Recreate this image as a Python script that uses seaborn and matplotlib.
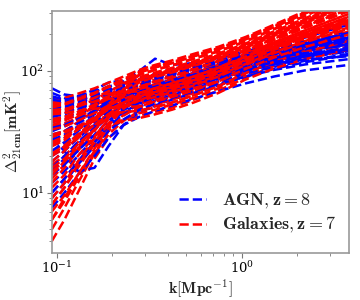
import matplotlib
matplotlib.use("Agg")
import matplotlib.pyplot as plt
import numpy as np
import pandas as pd
import seaborn as sns
from matplotlib.lines import Line2D

# k bins [Mpc^-1]
k_vals = [0.094, 0.11, 0.13, 0.16, 0.19, 0.23, 0.28, 0.34, 0.42, 0.55, 0.75, 1.05, 1.5, 2.2, 3.8]

# AGN, z = 8 power spectra [mK^2]
agn_curves = [
    [72, 64, 62, 70, 80, 84, 88, 95, 104, 114, 126, 142, 158, 172, 190],
    [66, 60, 61, 66, 74, 80, 86, 92, 100, 110, 122, 138, 156, 176, 210],
    [60, 58, 62, 68, 74, 82, 100, 126, 112, 116, 128, 145, 165, 188, 240],
    [7.5, 10, 14, 20, 28, 36, 42, 47, 52, 59, 68, 79, 90, 101, 112],
    [28, 22, 15, 16, 24, 36, 46, 52, 58, 66, 76, 90, 104, 118, 135],
    [12, 15, 20, 28, 37, 46, 54, 60, 66, 75, 86, 100, 114, 128, 145],
    [18, 22, 28, 36, 44, 52, 58, 64, 71, 80, 92, 107, 122, 137, 155],
    [25, 28, 33, 40, 48, 56, 63, 69, 76, 86, 98, 114, 130, 146, 165],
    [35, 37, 41, 47, 54, 60, 66, 72, 79, 89, 101, 117, 133, 148, 162],
    [45, 46, 49, 54, 60, 66, 72, 78, 85, 95, 107, 123, 138, 152, 168],
    [52, 50, 52, 57, 63, 70, 76, 82, 89, 99, 112, 128, 144, 160, 178],
    [40, 42, 45, 50, 56, 62, 68, 73, 79, 87, 97, 110, 124, 136, 150],
    [30, 32, 37, 44, 52, 60, 67, 73, 80, 90, 103, 120, 138, 156, 180],
    [10, 13, 18, 26, 35, 44, 51, 57, 63, 72, 82, 95, 108, 121, 138],
    [15, 19, 25, 33, 42, 50, 57, 63, 69, 78, 89, 103, 117, 131, 148],
    [22, 26, 32, 40, 48, 56, 62, 68, 75, 84, 95, 109, 122, 134, 143],
    [55, 54, 56, 60, 66, 72, 78, 85, 93, 104, 118, 135, 153, 172, 198],
    [48, 47, 50, 56, 63, 70, 77, 84, 92, 103, 116, 133, 150, 166, 185],
    [38, 40, 44, 50, 57, 64, 70, 76, 83, 93, 105, 121, 137, 152, 170],
    [20, 24, 30, 38, 46, 53, 59, 65, 72, 82, 94, 110, 127, 145, 170],
    [32, 35, 40, 47, 55, 63, 70, 77, 85, 96, 110, 128, 147, 166, 188],
    [9, 12, 17, 24, 32, 40, 48, 54, 60, 68, 78, 90, 102, 113, 125],
    [14, 17, 22, 30, 39, 48, 55, 61, 67, 76, 87, 100, 113, 124, 132],
    [62, 58, 60, 64, 70, 76, 82, 88, 96, 106, 120, 137, 155, 174, 200],
    [42, 44, 48, 53, 58, 64, 70, 77, 84, 94, 106, 122, 138, 154, 175],
    [27, 30, 35, 42, 50, 58, 64, 70, 77, 87, 99, 114, 128, 140, 152],
    [50, 51, 54, 59, 65, 71, 77, 83, 90, 100, 113, 129, 145, 160, 176],
    [16, 20, 26, 34, 43, 51, 58, 64, 70, 79, 90, 104, 118, 132, 150],
    [34, 36, 40, 46, 53, 60, 67, 74, 82, 93, 107, 125, 145, 168, 205],
    [58, 56, 58, 63, 69, 75, 81, 87, 94, 104, 117, 133, 150, 166, 182],
]

# Galaxies, z = 7 power spectra [mK^2]
gal_curves = [
    [4, 6, 10, 19, 28, 36, 43, 46, 50, 58, 69, 88, 110, 131, 159],
    [5, 7.5, 12, 21, 32, 44, 54, 58, 63, 72, 86, 108, 134, 164, 210],
    [6, 8.5, 13, 21, 30, 39, 47, 50, 55, 63, 75, 96, 119, 143, 177],
    [8, 11, 16, 25, 36, 48, 60, 66, 73, 83, 98, 122, 152, 188, 249],
    [10, 13, 18, 26, 34, 40, 45, 48, 53, 60, 72, 92, 114, 137, 168],
    [13, 17, 23, 33, 45, 58, 71, 77, 84, 96, 112, 138, 172, 215, 294],
    [17, 20, 26, 34, 43, 51, 57, 61, 67, 76, 90, 112, 140, 172, 222],
    [22, 25, 30, 36, 42, 46, 49, 53, 58, 66, 79, 100, 124, 150, 187],
    [28, 32, 38, 47, 57, 68, 81, 89, 97, 110, 127, 155, 195, 247, 348],
    [35, 37, 41, 47, 54, 60, 65, 70, 76, 87, 102, 127, 159, 197, 263],
    [42, 45, 51, 58, 67, 79, 93, 102, 111, 126, 145, 175, 221, 283, 411],
    [50, 52, 56, 61, 66, 70, 74, 81, 88, 100, 116, 143, 180, 226, 311],
    [57, 60, 65, 72, 80, 90, 102, 112, 122, 138, 158, 190, 240, 310, 460],
    [7, 9.5, 14, 22, 32, 43, 51, 56, 61, 69, 82, 104, 129, 157, 199],
    [12, 16, 22, 32, 46, 63, 85, 93, 101, 115, 133, 162, 203, 258, 367],
    [20, 23, 28, 36, 46, 57, 68, 74, 80, 91, 107, 133, 166, 206, 278],
    [25, 28, 33, 40, 48, 55, 59, 64, 70, 79, 94, 117, 146, 180, 235],
    [32, 36, 42, 51, 62, 77, 97, 107, 116, 132, 151, 182, 230, 296, 435],
    [38, 40, 43, 47, 51, 53, 54, 58, 64, 72, 86, 108, 134, 164, 210],
    [45, 47, 51, 57, 63, 70, 78, 85, 92, 105, 122, 149, 187, 236, 329],
    [53, 55, 60, 66, 73, 81, 89, 97, 106, 120, 139, 168, 212, 270, 389],
    [15, 18, 23, 29, 35, 39, 41, 44, 48, 55, 66, 85, 105, 125, 150],
    [9, 12, 18, 28, 41, 58, 77, 84, 92, 105, 122, 149, 187, 236, 329],
    [30, 32, 35, 39, 43, 46, 47, 51, 55, 63, 75, 96, 119, 143, 177],
    [48, 49, 52, 56, 59, 61, 62, 67, 73, 83, 98, 122, 152, 188, 249],
    [40, 42, 46, 52, 59, 65, 71, 77, 84, 96, 112, 138, 172, 215, 294],
    [18, 22, 29, 40, 53, 71, 93, 102, 111, 126, 145, 175, 221, 283, 411],
    [55, 56, 58, 62, 65, 67, 68, 74, 80, 91, 107, 133, 166, 206, 278],
    [26, 29, 34, 42, 52, 63, 74, 81, 88, 100, 116, 143, 180, 226, 311],
    [11, 14, 20, 29, 40, 50, 57, 61, 67, 76, 90, 112, 140, 172, 222],
    [36, 39, 44, 51, 60, 71, 85, 93, 101, 115, 133, 162, 203, 258, 367],
    [50, 53, 58, 65, 74, 84, 97, 107, 116, 132, 151, 182, 230, 296, 435],
    [20, 24, 30, 39, 50, 64, 81, 89, 97, 110, 127, 155, 195, 247, 348],
    [44, 45, 47, 49, 50, 51, 51, 56, 61, 69, 82, 104, 129, 157, 199],
    [6, 9, 14, 23, 35, 50, 65, 70, 76, 87, 102, 127, 159, 197, 263],
    [14, 18, 24, 33, 44, 55, 66, 72, 79, 90, 106, 131, 163, 203, 272],
    [24, 27, 33, 41, 51, 62, 74, 82, 90, 103, 120, 147, 184, 232, 322],
    [33, 35, 39, 45, 52, 59, 66, 72, 79, 90, 106, 131, 164, 204, 276],
    [46, 48, 53, 60, 68, 77, 86, 94, 103, 117, 135, 165, 207, 264, 378],
    [39, 41, 46, 53, 61, 71, 83, 91, 99, 112, 130, 158, 198, 251, 355],
    [16, 19, 25, 33, 42, 51, 60, 65, 71, 81, 96, 119, 149, 184, 242],
    [8, 11, 17, 26, 37, 49, 62, 68, 75, 85, 100, 124, 155, 192, 256],
    [29, 31, 35, 41, 48, 55, 62, 67, 74, 84, 99, 123, 154, 191, 253],
    [52, 54, 59, 66, 75, 86, 99, 109, 118, 134, 154, 186, 235, 303, 447],
    [21, 24, 29, 36, 44, 52, 58, 63, 69, 78, 92, 114, 143, 176, 228],
]

sns.set_style("ticks")
plt.rcParams["mathtext.fontset"] = "cm"
plt.rcParams["font.family"] = ["DejaVu Serif"]

fig = plt.figure(figsize=(3.6, 3.0), dpi=100)
ax = fig.add_axes([0.144, 0.157, 0.825, 0.806])

lw = 1.8
n = max(len(agn_curves), len(gal_curves))
for i in range(n):
    if i < len(agn_curves):
        sns.lineplot(x=k_vals, y=agn_curves[i], ax=ax, color="#0000ff",
                     linestyle="--", linewidth=lw, estimator=None, sort=False)
    if i < len(gal_curves):
        sns.lineplot(x=k_vals, y=gal_curves[i], ax=ax, color="#ff0000",
                     linestyle="--", linewidth=lw, estimator=None, sort=False)

ax.set_xscale("log")
ax.set_yscale("log")
ax.set_xlim(0.094, 3.8)
ax.set_ylim(3.2, 310)

for sp in ax.spines.values():
    sp.set_color("#999999")
    sp.set_linewidth(1.2)
ax.tick_params(which="both", colors="#777777", labelcolor="black", labelsize=9.5)
ax.tick_params(which="major", length=3.5, pad=2)
ax.tick_params(which="minor", length=2)

ax.set_xlabel(r"$\mathbf{k[Mpc^{-1}]}$", fontsize=11.5)
ax.set_ylabel(r"$\mathbf{\Delta^2_{21cm}[mK^2]}$", fontsize=11.5)
ax.xaxis.set_label_coords(0.5, -0.105)
ax.yaxis.set_label_coords(-0.095, 0.5)

handles = [
    Line2D([], [], color="#0000ff", linestyle="--", linewidth=lw),
    Line2D([], [], color="#ff0000", linestyle="--", linewidth=lw),
]
ax.legend(handles, [r"$\mathbf{AGN, z=8}$", r"$\mathbf{Galaxies, z=7}$"],
          loc="lower right", bbox_to_anchor=(1.0, 0.02), frameon=False,
          fontsize=13, handlelength=1.5, labelspacing=0.25, handletextpad=0.9,
          borderaxespad=0.3)

fig.savefig("out.png", dpi=100)
